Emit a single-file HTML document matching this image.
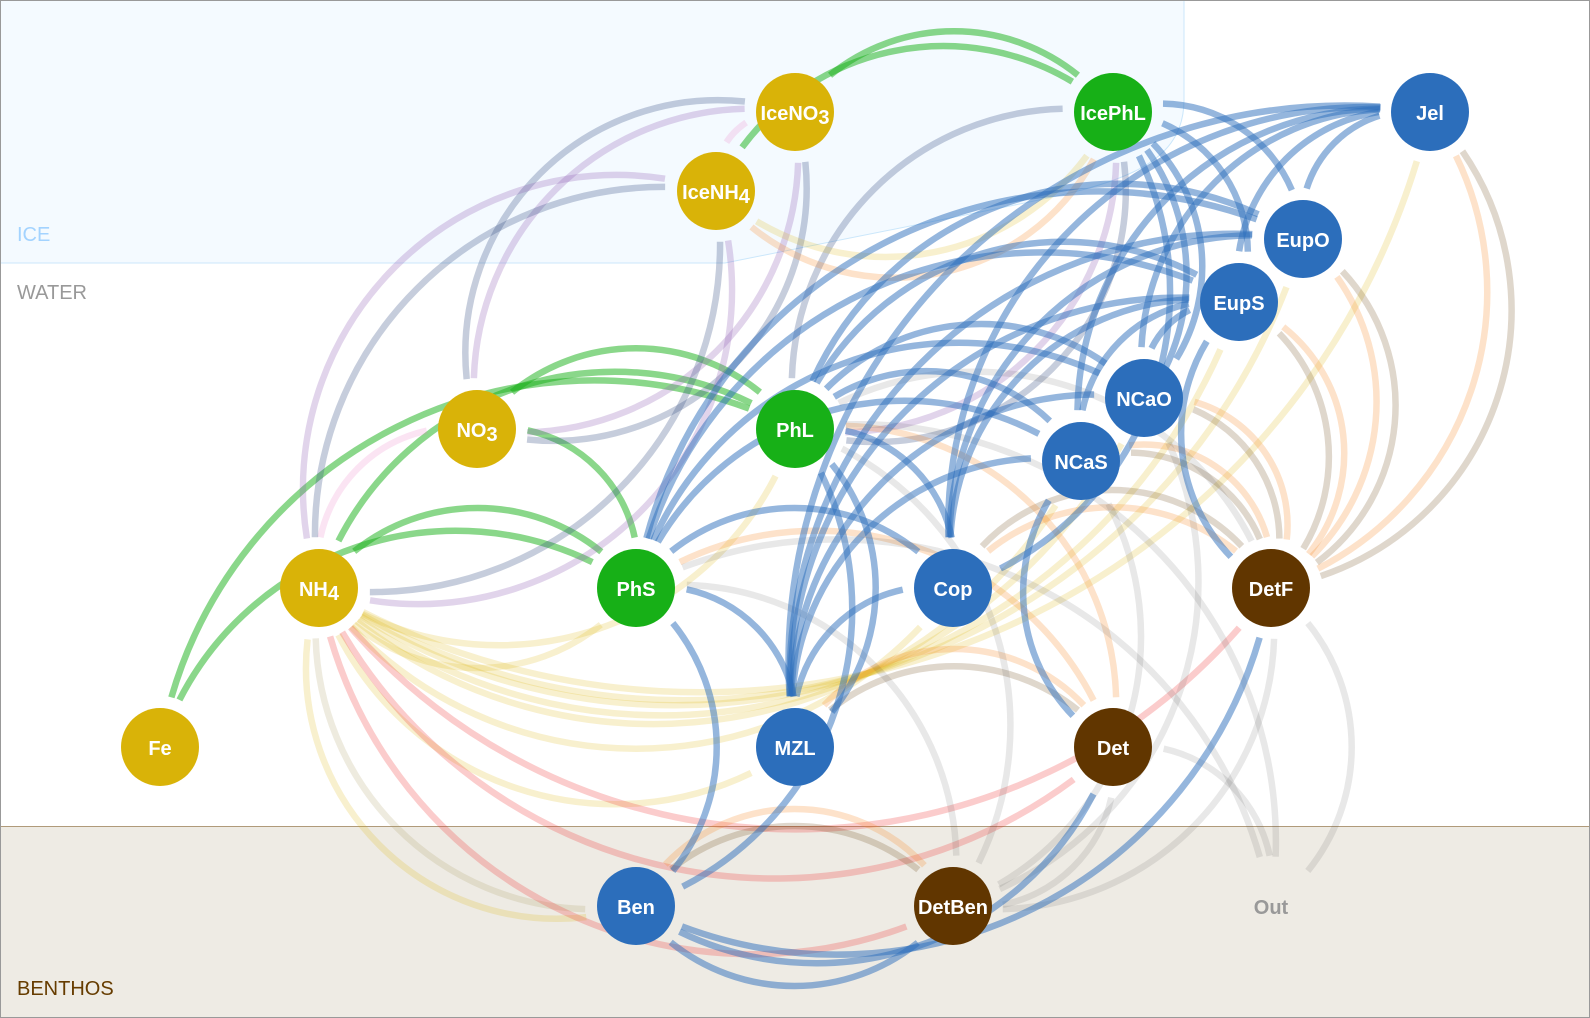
<!DOCTYPE html>
<html><head><meta charset="utf-8"><title>Food web</title>
<style>
html,body{margin:0;padding:0;background:#fff}
svg{display:block}
path{fill:none;stroke-width:6.5}
.g{stroke:#16b016;stroke-opacity:.5}
.b{stroke:#2c6ebb;stroke-opacity:.5}
.u{stroke:#8f5fb5;stroke-opacity:.27}
.s{stroke:#344a80;stroke-opacity:.28}
.p{stroke:#ec79c4;stroke-opacity:.2}
.y{stroke:#dbb50a;stroke-opacity:.2}
.z{stroke:#a89a60;stroke-opacity:.2}
.o{stroke:#f88a2a;stroke-opacity:.25}
.t{stroke:#603800;stroke-opacity:.2}
.a{stroke:#444;stroke-opacity:.12}
.r{stroke:#ee3333;stroke-opacity:.25}
text{font-family:"Liberation Sans",sans-serif}
.n{font-weight:bold;font-size:20px;fill:#fff;text-anchor:middle}
.l{font-size:20px}
</style></head><body>
<svg width="1590" height="1018" viewBox="0 0 1590 1018" xmlns="http://www.w3.org/2000/svg">
<rect width="1590" height="1018" fill="#fff"/>
<path d="M0 263H725L1000 208C1110 186 1184 170 1184 100V0H0Z" style="fill:#f4faff;stroke:#cbe7fb;stroke-width:1"/>
<rect x="0.5" y="826.5" width="1589" height="191" style="fill:#eeebe4;stroke:none"/>
<path d="M0 826.5H1590" style="stroke:#b09a7a;stroke-width:1"/>

<path class="g" d="M160 747A440 440 0 0 1 795 429" stroke-dasharray="0 51 725 9999"/>
<path class="g" d="M160 747A311 311 0 0 1 636 588" stroke-dasharray="0 51 482 9999"/>
<path class="g" d="M319 588A311 311 0 0 1 795 429" stroke-dasharray="0 51 482 9999"/>
<path class="g" d="M319 588A197 197 0 0 1 636 588" stroke-dasharray="0 51 267 9999"/>
<path class="g" d="M477 429A197 197 0 0 1 795 429" stroke-dasharray="0 51 268 9999"/>
<path class="g" d="M477 429A139 139 0 0 1 636 588" stroke-dasharray="0 51 160 9999"/>
<path class="g" d="M716 191A251 251 0 0 1 1113 112" stroke-dasharray="0 51 369 9999"/>
<path class="g" d="M795 112A197 197 0 0 1 1113 112" stroke-dasharray="0 51 268 9999"/>

<path class="p" d="M319 588A139 139 0 0 1 477 429" stroke-dasharray="0 51 159 9999"/>
<path class="p" d="M716 191A69 69 0 0 1 795 112" stroke-dasharray="0 51 28 9999"/>

<path class="s" d="M477 429A253 253 0 0 1 795 112" stroke-dasharray="0 51 450 9999"/>
<path class="u" d="M477 429A278 278 0 0 1 795 112" stroke-dasharray="0 51 421 9999"/>
<path class="s" d="M795 112A253 253 0 0 1 477 429" stroke-dasharray="0 51 450 9999"/>
<path class="u" d="M795 112A278 278 0 0 1 477 429" stroke-dasharray="0 51 421 9999"/>
<path class="u" d="M319 588A314 314 0 0 1 716 191" stroke-dasharray="0 51 591 9999"/>
<path class="s" d="M319 588A348 348 0 0 1 716 191" stroke-dasharray="0 51 551 9999"/>
<path class="u" d="M716 191A314 314 0 0 1 319 588" stroke-dasharray="0 51 591 9999"/>
<path class="s" d="M716 191A348 348 0 0 1 319 588" stroke-dasharray="0 51 551 9999"/>
<path class="s" d="M795 429A278 278 0 0 1 1113 112" stroke-dasharray="0 51 421 9999"/>
<path class="s" d="M1113 112A251 251 0 0 1 795 429" stroke-dasharray="0 51 452 9999"/>
<path class="u" d="M1113 112A278 278 0 0 1 795 429" stroke-dasharray="0 51 421 9999"/>

<path class="y" d="M636 588A197 197 0 0 1 319 588" stroke-dasharray="0 51 267 9999"/>
<path class="y" d="M795 429A311 311 0 0 1 319 588" stroke-dasharray="0 51 482 9999"/>
<path class="y" d="M953 588A393 393 0 0 1 319 588" stroke-dasharray="0 51 636 9999"/>
<path class="y" d="M795 747A311 311 0 0 1 319 588" stroke-dasharray="0 51 482 9999"/>
<path class="y" d="M1081 461A479 479 0 0 1 319 588" stroke-dasharray="0 51 797 9999"/>
<path class="y" d="M1144 398A525 525 0 0 1 319 588" stroke-dasharray="0 51 883 9999"/>
<path class="y" d="M1239 302A597 597 0 0 1 319 588" stroke-dasharray="0 51 1019 9999"/>
<path class="y" d="M1303 239A647 647 0 0 1 319 588" stroke-dasharray="0 51 1113 9999"/>
<path class="y" d="M1430 112A749 749 0 0 1 319 588" stroke-dasharray="0 51 1305 9999"/>
<path class="y" d="M636 906A251 251 0 0 1 319 588" stroke-dasharray="0 51 452 9999"/>
<path class="z" d="M636 906A278 278 0 0 1 319 588" stroke-dasharray="0 51 421 9999"/>
<path class="y" d="M1113 112A251 251 0 0 1 716 191" stroke-dasharray="0 51 369 9999"/>

<path class="r" d="M1113 747A502 502 0 0 1 319 588" stroke-dasharray="0 51 841 9999"/>
<path class="r" d="M1271 588A590 590 0 0 1 319 588" stroke-dasharray="0 51 1006 9999"/>
<path class="r" d="M953 906A440 440 0 0 1 319 588" stroke-dasharray="0 51 724 9999"/>

<path class="o" d="M1113 112A227 227 0 0 1 716 191" stroke-dasharray="0 51 398 9999"/>
<path class="o" d="M1430 112A311 311 0 0 1 1271 588" stroke-dasharray="0 51 482 9999"/>
<path class="t" d="M1430 112A281 281 0 0 1 1271 588" stroke-dasharray="0 51 518 9999"/>
<path class="o" d="M1303 239A217 217 0 0 1 1271 588" stroke-dasharray="0 51 305 9999"/>
<path class="t" d="M1303 239A196 196 0 0 1 1271 588" stroke-dasharray="0 51 330 9999"/>
<path class="o" d="M1239 302A161 161 0 0 1 1271 588" stroke-dasharray="0 51 254 9999"/>
<path class="t" d="M1239 302A178 178 0 0 1 1271 588" stroke-dasharray="0 51 233 9999"/>
<path class="o" d="M1144 398A128 128 0 0 1 1271 588" stroke-dasharray="0 51 180 9999"/>
<path class="t" d="M1144 398A142 142 0 0 1 1271 588" stroke-dasharray="0 51 164 9999"/>
<path class="o" d="M1081 461A128 128 0 0 1 1271 588" stroke-dasharray="0 51 180 9999"/>
<path class="t" d="M1081 461A142 142 0 0 1 1271 588" stroke-dasharray="0 51 164 9999"/>
<path class="o" d="M953 588A197 197 0 0 1 1271 588" stroke-dasharray="0 51 268 9999"/>
<path class="t" d="M953 588A178 178 0 0 1 1271 588" stroke-dasharray="0 51 291 9999"/>
<path class="o" d="M795 747A178 178 0 0 1 1113 747" stroke-dasharray="0 51 291 9999"/>
<path class="t" d="M795 747A197 197 0 0 1 1113 747" stroke-dasharray="0 51 268 9999"/>
<path class="o" d="M636 906A178 178 0 0 1 953 906" stroke-dasharray="0 51 290 9999"/>
<path class="t" d="M636 906A197 197 0 0 1 953 906" stroke-dasharray="0 51 267 9999"/>
<path class="o" d="M636 588A312 312 0 0 1 1113 747" stroke-dasharray="0 51 483 9999"/>
<path class="o" d="M795 429A279 279 0 0 1 1113 747" stroke-dasharray="0 51 422 9999"/>

<path class="a" d="M636 588A440 440 0 0 1 1271 906" stroke-dasharray="0 51 725 9999"/>
<path class="a" d="M795 429A418 418 0 0 1 1271 906" stroke-dasharray="0 51 683 9999"/>
<path class="a" d="M795 429A311 311 0 0 1 1271 588" stroke-dasharray="0 51 482 9999"/>
<path class="a" d="M1113 747A139 139 0 0 1 1271 906" stroke-dasharray="0 51 159 9999"/>
<path class="a" d="M1271 588A197 197 0 0 1 1271 906" stroke-dasharray="0 51 268 9999"/>
<path class="a" d="M636 588A278 278 0 0 1 953 906" stroke-dasharray="0 51 421 9999"/>
<path class="a" d="M795 429A312 312 0 0 1 953 906" stroke-dasharray="0 51 483 9999"/>
<path class="a" d="M1144 398A337 337 0 0 1 953 906" stroke-dasharray="0 51 530 9999"/>
<path class="a" d="M1081 461A287 287 0 0 1 953 906" stroke-dasharray="0 51 437 9999"/>
<path class="a" d="M1113 747A140 140 0 0 1 953 906" stroke-dasharray="0 51 161 9999"/>
<path class="a" d="M1271 588A279 279 0 0 1 953 906" stroke-dasharray="0 51 422 9999"/>

<path class="b" d="M636 588A139 139 0 0 1 795 747" stroke-dasharray="0 51 160 9999"/>
<path class="b" d="M636 588A197 197 0 0 1 636 906" stroke-dasharray="0 51 268 9999"/>
<path class="b" d="M636 588A197 197 0 0 1 953 588" stroke-dasharray="0 51 267 9999"/>
<path class="b" d="M636 588A287 287 0 0 1 1081 461" stroke-dasharray="0 51 437 9999"/>
<path class="b" d="M636 588A336 336 0 0 1 1144 398" stroke-dasharray="0 51 529 9999"/>
<path class="b" d="M636 588A414 414 0 0 1 1239 302" stroke-dasharray="0 51 674 9999"/>
<path class="b" d="M636 588A467 467 0 0 1 1303 239" stroke-dasharray="0 51 774 9999"/>
<path class="b" d="M795 429A197 197 0 0 1 795 747" stroke-dasharray="0 51 268 9999"/>
<path class="b" d="M795 429A312 312 0 0 1 636 906" stroke-dasharray="0 51 483 9999"/>
<path class="b" d="M795 429A139 139 0 0 1 953 588" stroke-dasharray="0 51 159 9999"/>
<path class="b" d="M795 429A178 178 0 0 1 1081 461" stroke-dasharray="0 51 233 9999"/>
<path class="b" d="M795 429A217 217 0 0 1 1144 398" stroke-dasharray="0 51 305 9999"/>
<path class="b" d="M795 429A286 286 0 0 1 1239 302" stroke-dasharray="0 51 436 9999"/>
<path class="b" d="M795 429A336 336 0 0 1 1303 239" stroke-dasharray="0 51 529 9999"/>
<path class="b" d="M1113 112A142 142 0 0 1 1303 239" stroke-dasharray="0 51 164 9999"/>
<path class="b" d="M1113 112A141 141 0 0 1 1239 302" stroke-dasharray="0 51 163 9999"/>
<path class="b" d="M1113 112A178 178 0 0 1 1144 398" stroke-dasharray="0 51 233 9999"/>
<path class="b" d="M1113 112A217 217 0 0 1 1081 461" stroke-dasharray="0 51 305 9999"/>
<path class="b" d="M1113 112A311 311 0 0 1 953 588" stroke-dasharray="0 51 482 9999"/>
<path class="b" d="M795 747A139 139 0 0 1 953 588" stroke-dasharray="0 51 159 9999"/>
<path class="b" d="M795 747A251 251 0 0 1 1081 461" stroke-dasharray="0 51 369 9999"/>
<path class="b" d="M795 747A306 306 0 0 1 1144 398" stroke-dasharray="0 51 473 9999"/>
<path class="b" d="M795 747A390 390 0 0 1 1239 302" stroke-dasharray="0 51 630 9999"/>
<path class="b" d="M795 747A445 445 0 0 1 1303 239" stroke-dasharray="0 51 734 9999"/>
<path class="b" d="M795 747A557 557 0 0 1 1430 112" stroke-dasharray="0 51 943 9999"/>
<path class="b" d="M953 588A251 251 0 0 1 1239 302" stroke-dasharray="0 51 369 9999"/>
<path class="b" d="M953 588A306 306 0 0 1 1303 239" stroke-dasharray="0 51 473 9999"/>
<path class="b" d="M953 588A418 418 0 0 1 1430 112" stroke-dasharray="0 51 683 9999"/>
<path class="b" d="M1303 239A111 111 0 0 1 1430 112" stroke-dasharray="0 51 107 9999"/>
<path class="b" d="M1239 302A167 167 0 0 1 1430 112" stroke-dasharray="0 51 211 9999"/>
<path class="b" d="M1144 398A251 251 0 0 1 1430 112" stroke-dasharray="0 51 369 9999"/>
<path class="b" d="M1081 461A306 306 0 0 1 1430 112" stroke-dasharray="0 51 473 9999"/>
<path class="b" d="M1081 461A139 139 0 0 1 1239 302" stroke-dasharray="0 51 159 9999"/>
<path class="b" d="M1144 398A84 84 0 0 1 1239 302" stroke-dasharray="0 51 55 9999"/>
<path class="b" d="M1271 588A178 178 0 0 1 1239 302" stroke-dasharray="0 51 233 9999"/>
<path class="b" d="M1113 747A178 178 0 0 1 1081 461" stroke-dasharray="0 51 233 9999"/>
<path class="b" d="M1271 588A440 440 0 0 1 636 906" stroke-dasharray="0 51 725 9999"/>
<path class="b" d="M1113 747A312 312 0 0 1 636 906" stroke-dasharray="0 51 483 9999"/>
<path class="b" d="M953 906A197 197 0 0 1 636 906" stroke-dasharray="0 51 267 9999"/>

<g fill="#d9b308">
<circle cx="160" cy="747" r="39"/><circle cx="319" cy="588" r="39"/><circle cx="477" cy="429" r="39"/><circle cx="795" cy="112" r="39"/><circle cx="716" cy="191" r="39"/>
</g>
<g fill="#17b017">
<circle cx="636" cy="588" r="39"/><circle cx="795" cy="429" r="39"/><circle cx="1113" cy="112" r="39"/>
</g>
<g fill="#2c6ebb">
<circle cx="1430" cy="112" r="39"/><circle cx="1303" cy="239" r="39"/><circle cx="1239" cy="302" r="39"/><circle cx="1144" cy="398" r="39"/><circle cx="1081" cy="461" r="39"/><circle cx="953" cy="588" r="39"/><circle cx="795" cy="747" r="39"/><circle cx="636" cy="906" r="39"/>
</g>
<g fill="#613600">
<circle cx="1271" cy="588" r="39"/><circle cx="1113" cy="747" r="39"/><circle cx="953" cy="906" r="39"/>
</g>

<text class="n" x="160" y="755">Fe</text>
<text class="n" x="319" y="596">NH<tspan dy="4">4</tspan></text>
<text class="n" x="477" y="437">NO<tspan dy="4">3</tspan></text>
<text class="n" x="795" y="120">IceNO<tspan dy="4">3</tspan></text>
<text class="n" x="716" y="199">IceNH<tspan dy="4">4</tspan></text>
<text class="n" x="636" y="596">PhS</text>
<text class="n" x="795" y="437">PhL</text>
<text class="n" x="1113" y="120">IcePhL</text>
<text class="n" x="1430" y="120">Jel</text>
<text class="n" x="1303" y="247">EupO</text>
<text class="n" x="1239" y="310">EupS</text>
<text class="n" x="1144" y="406">NCaO</text>
<text class="n" x="1081" y="469">NCaS</text>
<text class="n" x="953" y="596">Cop</text>
<text class="n" x="1271" y="596">DetF</text>
<text class="n" x="795" y="755">MZL</text>
<text class="n" x="1113" y="755">Det</text>
<text class="n" x="636" y="914">Ben</text>
<text class="n" x="953" y="914">DetBen</text>
<text class="n" x="1271" y="914" style="fill:#999">Out</text>

<text class="l" x="17" y="241" fill="#a3d3ff">ICE</text>
<text class="l" x="17" y="299" fill="#999">WATER</text>
<text class="l" x="17" y="995" fill="#663c00">BENTHOS</text>

<rect x="0.5" y="0.5" width="1589" height="1017" style="fill:none;stroke:#999;stroke-width:1"/>
</svg>
</body></html>
